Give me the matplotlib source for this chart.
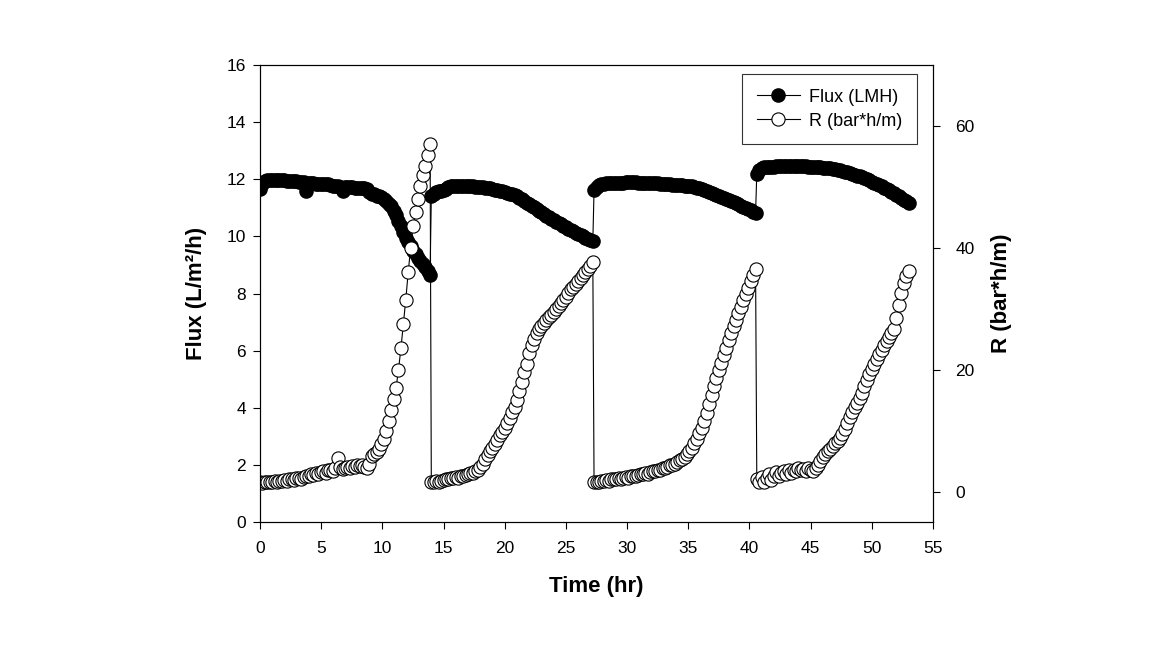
import numpy as np
import matplotlib
matplotlib.use("Agg")
from matplotlib import pyplot as plt

plt.rcParams["font.family"] = ["Liberation Sans", "DejaVu Sans"]

# run segments: (start hr, end hr), samples evenly spaced inside each run
SEG_TIMES = [(0.0, 13.9), (14.0, 27.2), (27.3, 40.5), (40.6, 53.0)]

flux_seg1 = [11.65, 11.85, 11.95, 11.97, 11.98, 11.98,
             11.98, 11.97, 11.97, 11.96, 11.96,
             11.95, 11.95, 11.94, 11.94, 11.93,
             11.92, 11.90, 11.90, 11.60, 11.88,
             11.87, 11.86, 11.85, 11.85, 11.84,
             11.83, 11.82, 11.82, 11.80, 11.78,
             11.77, 11.75, 11.74, 11.60, 11.72,
             11.72, 11.72, 11.72, 11.71, 11.70,
             11.70, 11.70, 11.68, 11.65, 11.55,
             11.50, 11.47, 11.43, 11.40, 11.37,
             11.32, 11.25, 11.15, 11.05, 10.90,
             10.75, 10.55, 10.35, 10.15, 9.95,
             9.80, 9.65, 9.50, 9.38, 9.25,
             9.15, 9.05, 8.92, 8.78, 8.65]
r_seg1 = [1.5, 1.4, 1.5, 1.6, 1.5, 1.6,
          1.7, 1.6, 1.8, 1.7, 1.9,
          1.8, 2.0, 2.1, 1.9, 2.2,
          2.3, 2.1, 2.4, 2.6, 2.5,
          2.8, 2.7, 3.0, 2.9, 3.2,
          3.3, 3.1, 3.5, 3.6, 3.4,
          3.9, 5.5, 4.0, 3.7, 3.9,
          4.1, 3.8, 4.2, 4.0, 4.3,
          4.2, 4.4, 4.1, 3.8, 4.6,
          5.9, 6.2, 6.5, 6.9, 7.8,
          8.6, 10.0, 11.5, 13.4, 15.2,
          17.0, 20.0, 23.5, 27.5, 31.5,
          36.0, 40.0, 43.5, 45.8, 48.0,
          50.2, 52.0, 53.5, 55.3, 57.1]

flux_seg2 = [11.40, 11.50, 11.55, 11.58, 11.60,
             11.62, 11.65, 11.72, 11.75, 11.76, 11.77,
             11.77, 11.77, 11.77, 11.76, 11.76,
             11.75, 11.75, 11.74, 11.74, 11.73,
             11.72, 11.71, 11.70, 11.68, 11.66,
             11.64, 11.62, 11.60, 11.58, 11.55,
             11.53, 11.50, 11.48, 11.45, 11.42,
             11.36, 11.30, 11.24, 11.18, 11.12,
             11.07, 11.02, 10.96, 10.90, 10.84,
             10.78, 10.72, 10.67, 10.62, 10.57,
             10.52, 10.47, 10.42, 10.37, 10.32,
             10.27, 10.23, 10.18, 10.13, 10.08,
             10.04, 10.00, 9.95, 9.91, 9.87, 9.83]
r_seg2 = [1.6, 1.5, 1.7, 1.6, 1.8,
          1.9, 2.0, 2.1, 2.2, 2.3,
          2.4, 2.3, 2.5, 2.6, 2.7,
          2.8, 3.0, 3.1, 3.3, 3.6,
          4.0, 4.6, 5.3, 6.0, 6.6,
          7.2, 7.8, 8.5, 9.2, 9.8,
          10.4, 11.2, 12.0, 13.0, 13.9,
          15.0, 16.5, 18.0, 19.6, 21.0,
          22.8, 24.0, 25.0, 26.0, 26.7,
          27.2, 27.6, 28.1, 28.6, 29.0,
          29.4, 29.9, 30.4, 30.9, 31.5,
          32.0, 32.6, 33.2, 33.6, 34.1,
          34.6, 35.1, 35.5, 36.0, 36.5, 37.0, 37.6]

flux_seg3 = [11.62, 11.74, 11.80, 11.83, 11.85,
             11.86, 11.87, 11.87, 11.88, 11.88, 11.88,
             11.88, 11.88, 11.89, 11.89, 11.89,
             11.89, 11.89, 11.88, 11.88, 11.88,
             11.88, 11.87, 11.87, 11.87, 11.86,
             11.86, 11.85, 11.85, 11.84, 11.83,
             11.82, 11.81, 11.80, 11.80, 11.79,
             11.79, 11.78, 11.77, 11.76, 11.75,
             11.73, 11.71, 11.69, 11.66, 11.63,
             11.60, 11.56, 11.52, 11.48, 11.44,
             11.41, 11.38, 11.35, 11.32, 11.28,
             11.24, 11.20, 11.16, 11.12, 11.08,
             11.04, 10.99, 10.95, 10.91, 10.87, 10.82]
r_seg3 = [1.5, 1.6, 1.5, 1.7, 1.8,
          1.9, 1.8, 2.0, 2.1, 2.0,
          2.2, 2.1, 2.3, 2.4, 2.3,
          2.5, 2.6, 2.5, 2.7, 2.8,
          2.9, 3.0, 2.9, 3.2, 3.3,
          3.4, 3.5, 3.6, 3.8, 3.9,
          4.1, 4.3, 4.4, 4.6, 4.9,
          5.2, 5.4, 5.7, 6.1, 6.6,
          7.2, 7.9, 8.7, 9.6, 10.5,
          11.6, 12.9, 14.3, 15.8, 17.3,
          18.6, 19.9, 21.1, 22.4, 23.6,
          24.8, 26.0, 27.1, 28.2, 29.3,
          30.3, 31.4, 32.4, 33.4, 34.5, 35.5, 36.5]

flux_seg4 = [12.20, 12.33, 12.40, 12.42, 12.43,
             12.44, 12.44, 12.44, 12.45, 12.45,
             12.45, 12.45, 12.45, 12.45, 12.45,
             12.45, 12.45, 12.45, 12.45, 12.45,
             12.45, 12.44, 12.44, 12.44, 12.43,
             12.43, 12.42, 12.41, 12.40, 12.39,
             12.38, 12.36, 12.35, 12.33, 12.31,
             12.29, 12.27, 12.24, 12.21, 12.18,
             12.16, 12.13, 12.10, 12.07, 12.03,
             12.00, 11.96, 11.92, 11.88, 11.84,
             11.80, 11.76, 11.71, 11.66, 11.61,
             11.56, 11.51, 11.46, 11.40, 11.34,
             11.29, 11.23, 11.17]
r_seg4 = [2.0, 1.6, 2.4, 1.5, 2.2,
          2.8, 1.9, 2.6, 3.2, 2.5,
          3.0, 3.4, 2.8, 3.5, 3.1,
          3.6, 3.3, 3.8, 3.5, 3.7,
          3.4, 3.9, 3.6, 3.3, 3.8,
          4.4, 5.0, 5.6, 6.1, 6.6,
          7.0, 7.4, 7.9, 8.3, 8.8,
          9.4, 10.2, 11.2, 12.2, 13.1,
          13.9, 14.6, 15.3, 16.2, 17.3,
          18.3, 19.3, 20.1, 20.9, 21.7,
          22.5, 23.3, 24.0, 24.7, 25.3,
          26.0, 26.7, 28.5, 30.6, 32.6,
          34.2, 35.4, 36.2]

flux_segs = [flux_seg1, flux_seg2, flux_seg3, flux_seg4]
r_segs = [r_seg1, r_seg2, r_seg3, r_seg4]

time = np.concatenate([np.linspace(a, b, len(f)) for (a, b), f in zip(SEG_TIMES, flux_segs)])
flux = np.concatenate(flux_segs)
resist = np.concatenate(r_segs)

fig = plt.figure(figsize=(11.6, 6.49), dpi=100)
ax = fig.add_axes([260 / 1160, 1 - 522 / 649, 673 / 1160, 457 / 649])
ax2 = ax.twinx()

l1, = ax.plot(time, flux, "-o", color="black", mfc="black", mec="black",
              ms=9.5, lw=0.8, label="Flux (LMH)")
l2, = ax2.plot(time, resist, "-o", color="black", mfc="white", mec="black",
               ms=9.5, mew=0.8, lw=0.8, label="R (bar*h/m)")

ax.set_xlim(0, 55)
ax.set_ylim(0, 16)
ax.set_xticks(np.arange(0, 56, 5))
ax.set_yticks(np.arange(0, 17, 2))
ax2.set_ylim(-5, 70)
ax2.set_yticks([0, 20, 40, 60])

for a in (ax, ax2):
    a.tick_params(direction="out", length=5, width=0.8, labelsize=12.5, color="black")
    for s in a.spines.values():
        s.set_linewidth(0.8)
ax.tick_params(axis="x", pad=9)
ax.tick_params(axis="y", pad=5)
ax2.tick_params(axis="y", pad=11)

lab = dict(fontsize=16, fontweight="bold", family="Liberation Sans")
ax.set_xlabel("Time (hr)", labelpad=14, **lab)
ax.set_ylabel("Flux (L/m²/h)", labelpad=14, **lab)
ax2.set_ylabel("R (bar*h/m)", labelpad=12, **lab)

leg = ax2.legend(handles=[l1, l2], loc="upper right", bbox_to_anchor=(0.976, 0.98),
                 borderaxespad=0, fontsize=13, frameon=True, fancybox=False,
                 edgecolor="black", handlelength=2.4, borderpad=0.8,
                 labelspacing=0.4, handletextpad=0.5)
leg.get_frame().set_linewidth(0.8)

fig.savefig("out.png", dpi=100)
